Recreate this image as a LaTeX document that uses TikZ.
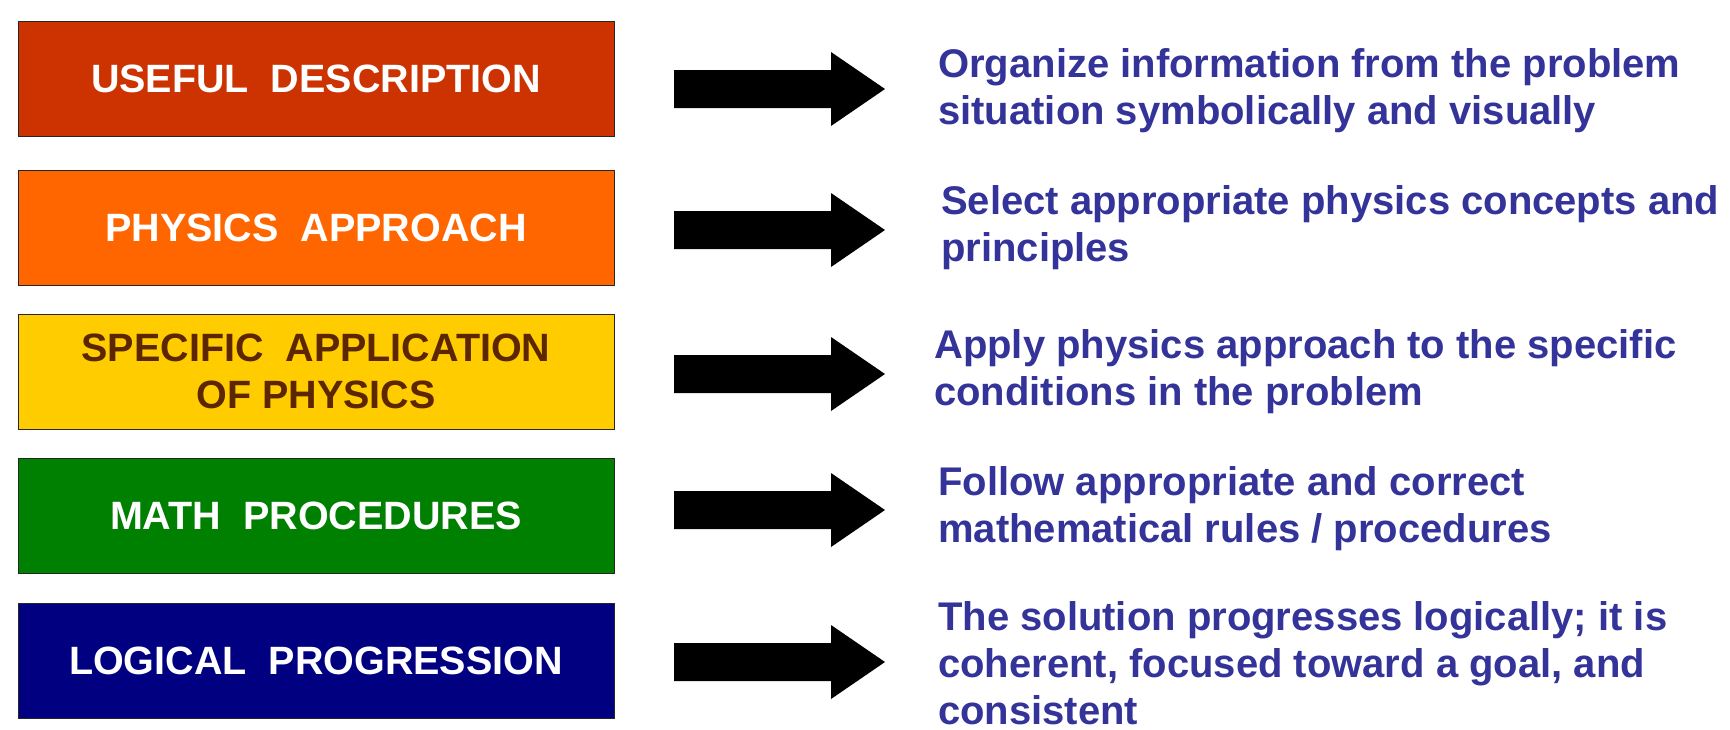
\documentclass[tikz,border=0pt]{standalone}
\usepackage{fontspec}
\setmainfont{Liberation Sans}
\definecolor{rustred}{HTML}{CC3300}
\definecolor{brightorange}{HTML}{FF6600}
\definecolor{goldyellow}{HTML}{FFCC00}
\definecolor{leafgreen}{HTML}{008000}
\definecolor{deepnavy}{HTML}{000080}
\definecolor{darkbrown}{HTML}{5C2600}
\definecolor{notetext}{HTML}{333399}
\tikzset{
  stagebox/.style={draw=black!85, line width=0.9pt, minimum width=596pt, minimum height=115pt,
    inner sep=0pt, align=center, text=white,
    font=\bfseries\fontsize{39.5}{47}\selectfont},
  note/.style={anchor=base west, align=left, inner sep=0pt, text=notetext,
    font=\bfseries\fontsize{40}{47}\selectfont},
  blockarrow/.pic={\fill[black] (-105.5,-19) -- (51.5,-19) -- (51.5,-37) -- (105.5,0)
    -- (51.5,37) -- (51.5,19) -- (-105.5,19) -- cycle;}
}
\begin{document}
\begin{tikzpicture}[x=1pt,y=-1pt]
\useasboundingbox (0,0) rectangle (1730,729);

% stage boxes
\node[stagebox, fill=rustred]     (useful)  at (316,78.5)  {USEFUL\ \ DESCRIPTION};
\node[stagebox, fill=brightorange](physics) at (316,227.5) {PHYSICS\ \ APPROACH};
\node[stagebox, fill=goldyellow, text=darkbrown] (specific) at (316,371.5) {SPECIFIC\ \ APPLICATION\\OF PHYSICS};
\node[stagebox, fill=leafgreen]   (math)    at (316,515.5) {MATH\ \ PROCEDURES};
\node[stagebox, fill=deepnavy]    (logical) at (316,661)   {LOGICAL\ \ PROGRESSION};

% block arrows
\pic at (779.5,89)  {blockarrow};
\pic at (779.5,230) {blockarrow};
\pic at (779.5,374) {blockarrow};
\pic at (779.5,510) {blockarrow};
\pic at (779.5,662) {blockarrow};

% descriptions (anchored at the baseline of their last line)
\node[note] (d1) at (938,124) {Organize information from the problem\\situation symbolically and visually};
\node[note] (d2) at (941,261) {Select appropriate physics concepts and\\principles};
\node[note] (d3) at (934,405) {Apply physics approach to the specific\\conditions in the problem};
\node[note] (d4) at (938,542) {Follow appropriate and correct\\mathematical rules / procedures};
\node[note] (d5) at (938,724) {The solution progresses logically; it is\\coherent, focused toward a goal, and\\consistent};
\end{tikzpicture}
\end{document}
